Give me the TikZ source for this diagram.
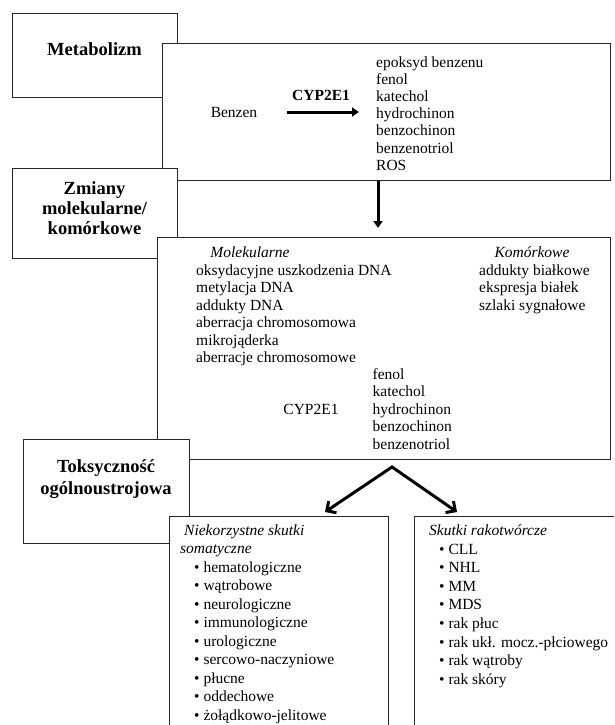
\documentclass[tikz,border=0pt]{standalone}
\usepackage{fontspec}
\setmainfont{Liberation Serif}
\usetikzlibrary{arrows.meta}
\begin{document}
\begin{tikzpicture}[x=1pt,y=-1pt,
  box/.style={draw=black!85, line width=1pt, fill=white, inner sep=0pt, anchor=north west},
  txt/.style={font=\fontsize{15.5}{18}\selectfont, inner sep=0pt, anchor=base west},
  itxt/.style={txt, font=\fontsize{15.5}{18}\selectfont\itshape},
  ctxt/.style={txt, anchor=base},
  head/.style={inner sep=0pt, anchor=base, font=\fontsize{18.5}{21}\selectfont\bfseries},
  bigarrow/.style={line width=3pt, draw=black, -{Triangle[length=7pt,width=9pt]}},
  vee/.style={line width=3pt, draw=black, line join=miter, {Straight Barb[length=7pt,width=14pt]}-{Straight Barb[length=7pt,width=14pt]}}
]
\clip (0,0) rectangle (614,725);
\fill[white] (0,0) rectangle (614,725);

% --- boxes (drawing order = stacking order)
\node[box, minimum width=165pt, minimum height=84pt] (metab) at (12,13) {};
\node[box, minimum width=448pt, minimum height=137pt] (box1) at (162,43) {};
\node[box, minimum width=165pt, minimum height=90pt] (zmiany) at (12,168) {};
\node[box, minimum width=453pt, minimum height=222pt] (box2) at (157,237) {};
\node[box, minimum width=166pt, minimum height=104pt] (toks) at (23,439) {};
\node[box, minimum width=219pt, minimum height=240pt] (box3) at (169,516) {};
\node[box, minimum width=230pt, minimum height=240pt] (box4) at (414,516) {};

% --- left headings
\node[head] (hmetab) at (94.5,56) {Metabolizm};
\node[head] (hz1) at (94.5,194) {Zmiany};
\node[head] (hz2) at (94.5,214) {molekularne/};
\node[head] (hz3) at (94.5,234) {komórkowe};
\node[head] (ht1) at (106,472) {Toksyczność};
\node[head] (ht2) at (106,494) {ogólnoustrojowa};

% --- box 1
\node[ctxt] (benzen) at (234,117) {Benzen};
\node[ctxt, font=\fontsize{15.5}{18}\selectfont\bfseries] (cyp1) at (321,100) {CYP2E1};
\coordinate (a1s) at (287,112);
\coordinate (a1e) at (359,112);
\draw[bigarrow] (a1s) -- (a1e);
\foreach \t [count=\i] in {epoksyd benzenu, fenol, katechol, hydrochinon, benzochinon, benzenotriol, ROS}
  \node[txt] (p\i) at (376, {67+17.2*(\i-1)}) {\t};

% --- arrow box1 -> box2
\coordinate (dtip) at (378,228);
\draw[bigarrow] (box1.south -| dtip) -- (dtip);

% --- box 2
\node[itxt, anchor=base] (molek) at (250,257) {Molekularne};
\foreach \t [count=\i] in {oksydacyjne uszkodzenia DNA, metylacja DNA, addukty DNA, aberracja chromosomowa, mikrojąderka, aberracje chromosomowe}
  \node[txt] (m\i) at (196, {275+17.5*(\i-1)}) {\t};
\node[itxt, anchor=base] (komor) at (532,257) {Komórkowe};
\foreach \t [count=\i] in {addukty białkowe, ekspresja białek, szlaki sygnałowe}
  \node[txt] (k\i) at (479, {275+17.5*(\i-1)}) {\t};
\foreach \t [count=\i] in {fenol, katechol, hydrochinon, benzochinon, benzenotriol}
  \node[txt] (f\i) at (372.5, {379+17.5*(\i-1)}) {\t};
\node[ctxt] (cyp2) at (311,414) {CYP2E1};

% --- split arrows
\coordinate (apex) at (392,467);
\coordinate (tipL) at (325,512);
\coordinate (tipR) at (457,512);
\draw[vee] (tipL) -- (apex) -- (tipR);

% --- box 3
\node[itxt] (n1) at (184,535) {Niekorzystne skutki};
\node[itxt] (n2) at (180,553) {somatyczne};
\foreach \t [count=\i] in {hematologiczne, wątrobowe, neurologiczne, immunologiczne, urologiczne, sercowo-naczyniowe, płucne, oddechowe, żołądkowo-jelitowe}
  \node[txt] (s\i) at (194, {572+18.5*(\i-1)}) {•\ \t};

% --- box 4
\node[itxt] (r0) at (429,535) {Skutki rakotwórcze};
\foreach \t [count=\i] in {CLL, NHL, MM, MDS, rak płuc, rak ukł. mocz.-płciowego, rak wątroby, rak skóry}
  \node[txt] (r\i) at (439, {554+18.6*(\i-1)}) {•\ \t};
\end{tikzpicture}
\end{document}
